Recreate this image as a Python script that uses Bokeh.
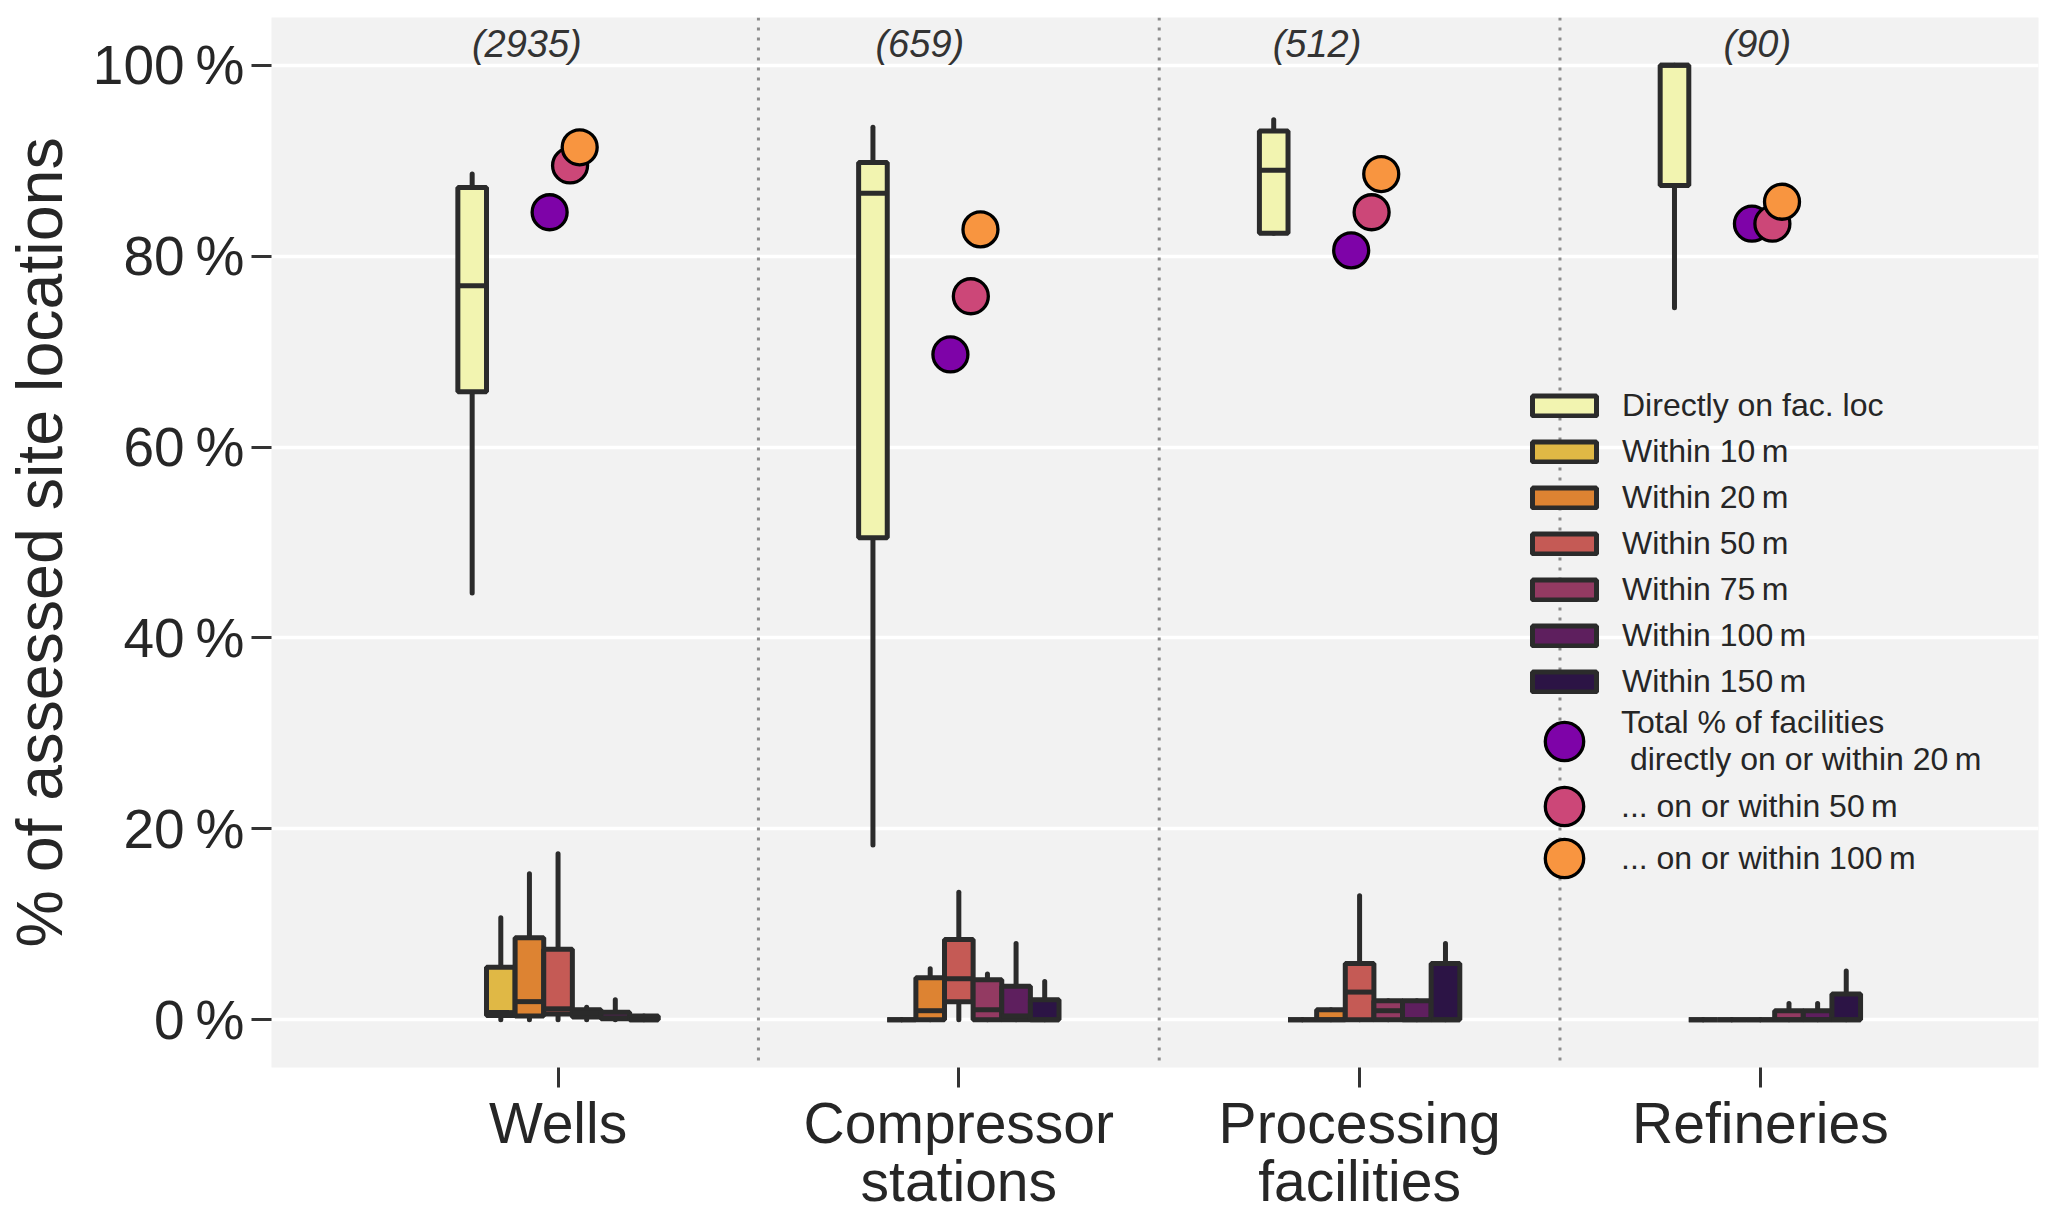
import numpy as np
from bokeh.plotting import figure
from bokeh.models import (Range1d, FixedTicker, Span, Legend, LegendItem, ColumnDataSource)
from bokeh.core.properties import value
from bokeh.embed import file_html
from bokeh.resources import INLINE

# ---------------- data ----------------
facilities = ["Wells", "Compressor\nstations", "Processing\nfacilities", "Refineries"]
counts = ["(2935)", "(659)", "(512)", "(90)"]

classes = ["Directly on fac. loc", "Within 10\u2009m", "Within 20\u2009m", "Within 50\u2009m",
           "Within 75\u2009m", "Within 100\u2009m", "Within 150\u2009m"]

# box statistics per class, one value per facility (Wells, Compressor, Processing, Refineries)
directly_low = [44.7, 18.3, 82.4, 74.6]
directly_q1 = [65.8, 50.5, 82.4, 87.4]
directly_med = [76.9, 86.6, 89.0, 100.0]
directly_q3 = [87.2, 89.8, 93.1, 100.0]
directly_high = [88.6, 93.5, 94.3, 100.0]

w10_low = [0.0, 0.0, 0.0, 0.0]
w10_q1 = [0.45, 0.0, 0.0, 0.0]
w10_med = [0.75, 0.0, 0.0, 0.0]
w10_q3 = [5.5, 0.0, 0.0, 0.0]
w10_high = [10.7, 0.0, 0.0, 0.0]

w20_low = [0.0, 0.0, 0.0, 0.0]
w20_q1 = [0.4, 0.0, 0.0, 0.0]
w20_med = [1.9, 0.95, 0.0, 0.0]
w20_q3 = [8.6, 4.4, 1.05, 0.0]
w20_high = [15.3, 5.35, 1.05, 0.0]

w50_low = [0.0, 0.0, 0.0, 0.0]
w50_q1 = [0.6, 1.9, 0.0, 0.0]
w50_med = [1.15, 4.3, 2.9, 0.0]
w50_q3 = [7.4, 8.4, 5.9, 0.0]
w50_high = [17.4, 13.35, 13.0, 0.0]

w75_low = [0.0, 0.0, 0.0, 0.0]
w75_q1 = [0.3, 0.0, 0.0, 0.0]
w75_med = [0.7, 1.05, 0.95, 0.0]
w75_q3 = [1.05, 4.2, 2.0, 0.95]
w75_high = [1.3, 4.8, 2.0, 1.7]

w100_low = [0.0, 0.0, 0.0, 0.0]
w100_q1 = [0.1, 0.0, 0.0, 0.0]
w100_med = [0.2, 0.4, 0.0, 0.0]
w100_q3 = [0.8, 3.5, 2.0, 0.95]
w100_high = [2.1, 8.0, 2.0, 1.7]

w150_low = [0.0, 0.0, 0.0, 0.0]
w150_q1 = [0.0, 0.0, 0.0, 0.0]
w150_med = [0.0, 0.0, 0.0, 0.0]
w150_q3 = [0.4, 2.1, 5.9, 2.7]
w150_high = [0.4, 4.0, 8.0, 5.1]

# total share of facilities (points)
dot_labels = ["Total % of facilities\n directly on or within 20\u2009m",
              "... on or within 50\u2009m", "... on or within 100\u2009m"]
on_or_within_20 = [84.6, 69.7, 80.6, 83.4]
on_or_within_50 = [89.5, 75.8, 84.6, 83.4]
on_or_within_100 = [91.4, 82.8, 88.6, 85.7]

y_ticks = [0, 20, 40, 60, 80, 100]

# ---------------- styling ----------------
box_colors = ["#f2f4b0", "#e0b845", "#dd8332", "#c55a55", "#933a62", "#5e1f5e", "#2c1445"]
dot_colors = ["#7e03a8", "#cc4778", "#f89540"]
EDGE = "#2b2b2b"
FONT = "Liberation Sans"
TXT = "#262626"
LW = 5

stats = [
    (directly_low, directly_q1, directly_med, directly_q3, directly_high),
    (w10_low, w10_q1, w10_med, w10_q3, w10_high),
    (w20_low, w20_q1, w20_med, w20_q3, w20_high),
    (w50_low, w50_q1, w50_med, w50_q3, w50_high),
    (w75_low, w75_q1, w75_med, w75_q3, w75_high),
    (w100_low, w100_q1, w100_med, w100_q3, w100_high),
    (w150_low, w150_q1, w150_med, w150_q3, w150_high),
]
dots = [on_or_within_20, on_or_within_50, on_or_within_100]

p = figure(width=2064, height=1221,
           x_range=Range1d(-0.715, 3.694), y_range=Range1d(-5, 105),
           output_backend="svg", toolbar_location=None,
           min_border_left=268, min_border_right=26, min_border_top=17, min_border_bottom=154,
           background_fill_color="#f2f2f2", border_fill_color="white",
           outline_line_color=None)

n_cls = len(classes)
total_w = 0.5
slot = total_w / n_cls
base = np.arange(len(facilities), dtype=float)

box_renderers = []
for j, (lo, q1, med, q3, hi) in enumerate(stats):
    xc = base + (j - (n_cls - 1) / 2) * slot
    src = ColumnDataSource(dict(x=xc, left=xc - slot / 2, right=xc + slot / 2,
                                lo=lo, q1=q1, med=med, q3=q3, hi=hi))
    p.segment(x0="x", y0="q3", x1="x", y1="hi", source=src, line_color=EDGE,
              line_width=LW, line_cap="round")
    p.segment(x0="x", y0="q1", x1="x", y1="lo", source=src, line_color=EDGE,
              line_width=LW, line_cap="round")
    r = p.quad(left="left", right="right", bottom="q1", top="q3", source=src,
               fill_color=box_colors[j], line_color=EDGE, line_width=LW)
    p.segment(x0="left", y0="med", x1="right", y1="med", source=src, line_color=EDGE,
              line_width=LW)
    box_renderers.append(r)

dot_offsets = [-0.021, 0.030, 0.054]
dot_renderers = []
for k, vals in enumerate(dots):
    src = ColumnDataSource(dict(x=base + dot_offsets[k], y=vals))
    r = p.ellipse(x="x", y="y", width=35, height=35, width_units="screen",
                  height_units="screen", source=src, fill_color=dot_colors[k],
                  line_color="black", line_width=3.3)
    dot_renderers.append(r)

# sample counts
count_offsets = [-0.215, -0.208, -0.217, -0.092]
p.text(x=base + np.array(count_offsets), y=[102.2] * 4, text=counts,
       text_font=value(FONT), text_font_style="italic", text_font_size="38px",
       text_align="left", text_baseline="middle", text_color="#333333")

# separators
for s in [0.5, 1.5, 2.5]:
    p.add_layout(Span(location=s, dimension="height", line_color="#8c8c8c",
                      line_width=3, line_dash="3 7", level="underlay"))

# axes
p.xgrid.visible = False
p.ygrid.ticker = FixedTicker(ticks=y_ticks)
p.ygrid.grid_line_color = "white"
p.ygrid.grid_line_width = 3.5

p.yaxis.ticker = FixedTicker(ticks=y_ticks)
p.yaxis.major_label_overrides = {t: f"{t}\u2009%" for t in y_ticks}
p.xaxis.ticker = FixedTicker(ticks=list(range(len(facilities))))
p.xaxis.major_label_overrides = {i: f for i, f in enumerate(facilities)}

for ax in (p.xaxis[0], p.yaxis[0]):
    ax.axis_line_color = None
    ax.major_tick_line_color = "#333333"
    ax.major_tick_line_width = 3
    ax.major_tick_out = 20
    ax.major_tick_in = 0
    ax.minor_tick_line_color = None
    ax.major_label_text_font = FONT
    ax.major_label_text_color = TXT

p.yaxis.major_label_text_font_size = "55px"
p.xaxis.major_label_text_font_size = "57px"
p.xaxis.major_label_standoff = 3
p.xaxis.major_label_text_line_height = 0.92
p.yaxis.major_label_standoff = 7
p.yaxis.axis_label = "% of assessed site locations"
p.yaxis.axis_label_text_font = FONT
p.yaxis.axis_label_text_font_size = "64.5px"
p.yaxis.axis_label_text_font_style = "normal"
p.yaxis.axis_label_text_color = TXT
p.yaxis.axis_label_standoff = 14

# legends
legA = Legend(items=[LegendItem(label=classes[j], renderers=[box_renderers[j]]) for j in range(n_cls)],
              location=(1253, 367), glyph_width=80, glyph_height=25, label_standoff=18,
              spacing=9, padding=0, margin=0, border_line_color=None,
              background_fill_alpha=0, label_text_font=FONT, label_text_font_size="32px",
              label_text_color=TXT)
legB = Legend(items=[LegendItem(label=dot_labels[k], renderers=[dot_renderers[k]]) for k in range(3)],
              location=(1269, 185), glyph_width=48, glyph_height=48, label_standoff=33,
              spacing=4, padding=0, margin=0, border_line_color=None,
              background_fill_alpha=0, label_text_font=FONT, label_text_font_size="32px",
              label_text_color=TXT)
p.add_layout(legA)
p.add_layout(legB)

open("out.html", "w").write(file_html(p, INLINE))
